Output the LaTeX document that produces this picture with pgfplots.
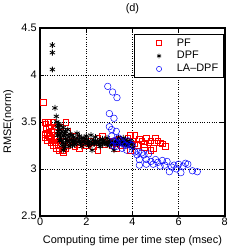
\documentclass[border=0pt]{standalone}
\usepackage{pgfplots}
\pgfplotsset{compat=1.18}
\usepackage{fontspec}
\setmainfont{Liberation Sans}
\begin{document}
\begin{tikzpicture}
\begin{axis}[
  scale only axis, width=186pt, height=189pt,
  xmin=0, xmax=8, ymin=2.5, ymax=4.5,
  xtick={0,2,4,6,8}, ytick={2.5,3,3.5,4,4.5},
  yticklabels={2.5,3,3.5,4,4.5},
  grid=major, major grid style={black, dotted, line width=0.8pt},
  axis line style={line width=1.6pt},
  tick style={black, line width=0.6pt}, tick align=inside,
  xlabel={Computing time per time step (msec)},
  ylabel={RMSE(norm)},
  title={(d)},
  /pgf/number format/assume math mode=true,
  ticklabel style={font=\fontsize{11}{13}\selectfont},
  label style={font=\fontsize{11}{13}\selectfont},
  title style={font=\fontsize{11}{13}\selectfont, at={([yshift=14pt]axis description cs:0.5,1)}, anchor=center},
  xlabel style={at={([yshift=-25pt]axis description cs:0.5,0)}, anchor=center},
  ylabel style={at={([xshift=-32pt]axis description cs:0,0.5)}, anchor=center, rotate=0},
  xticklabel style={yshift=1pt},
  legend style={at={(0.993,0.968)}, anchor=north east, line width=0.6pt,
    font=\fontsize{11}{13}\selectfont, row sep=0pt, inner ysep=2pt, inner xsep=3pt},
  legend cell align=left,
]
\addlegendimage{only marks, mark=square, mark size=2.4pt, draw=red, mark options={draw=red, solid}, line width=0.6pt, legend image code/.code={\draw[draw=red] plot coordinates {(0.75cm,0cm)}; \path (0cm,0cm) (1.3cm,0cm);}}
\addlegendentry{PF}
\addlegendimage{only marks, mark=asterisk, mark size=2.4pt, black, line width=0.7pt, legend image code/.code={\draw plot coordinates {(0.75cm,0cm)}; \path (0cm,0cm) (1.3cm,0cm);}}
\addlegendentry{DPF}
\addlegendimage{only marks, mark=o, mark size=2.6pt, draw=blue, mark options={draw=blue}, line width=0.5pt, legend image code/.code={\draw[draw=blue] plot coordinates {(0.75cm,0cm)}; \path (0cm,0cm) (1.3cm,0cm);}}
\addlegendentry{LA--DPF}
\addplot[forget plot, only marks, mark=square, mark size=2.8pt, color=red, mark options={draw=red}, line width=0.5pt] coordinates {
(0.14,3.71)(0.2,3.5)(0.25,3.48)(0.3,3.38)(0.2,3.37)(0.35,3.5)(0.4,3.45)(0.45,3.33)(0.5,3.3)(0.55,3.25)(0.6,3.42)(0.3,3.3)(0.4,3.35)(0.5,3.4)(0.55,3.5)(0.65,3.28)(0.7,3.22)(0.75,3.35)(0.8,3.3)(0.85,3.25)(0.9,3.45)(0.95,3.2)(1.0,3.18)(1.05,3.3)(1.1,3.22)(1.2,3.25)(1.3,3.28)(1.4,3.3)(1.5,3.24)(1.6,3.26)(1.7,3.22)(1.8,3.3)(1.9,3.28)(2.0,3.25)(2.1,3.27)(2.2,3.3)(2.3,3.24)(2.4,3.28)(2.5,3.2)(2.6,3.3)(2.7,3.35)(2.8,3.26)(2.9,3.3)(3.0,3.28)(3.1,3.25)(3.2,3.3)(3.3,3.27)(3.4,3.32)(3.5,3.25)(3.6,3.3)(3.7,3.28)(3.8,3.33)(3.9,3.36)(4.0,3.3)(4.1,3.27)(4.2,3.25)(4.3,3.32)(4.4,3.3)(4.5,3.26)(4.6,3.33)(4.7,3.28)(4.8,3.3)(4.9,3.22)(5.0,3.33)(5.1,3.3)(5.2,3.28)(5.3,3.27)(5.43,3.24)(4.8,3.2)(4.5,3.23)(4.1,3.36)(3.9,3.2)(1.1,3.5)(0.2,3.33)(0.7,3.45)(1.2,3.4)(0.6,3.32)(1.5,3.35)(2.5,3.33)(3.3,3.22)(0.25,3.42)(0.45,3.28)(0.8,3.2)
};
\addplot[forget plot, only marks, mark=asterisk, mark size=3pt, black, line width=0.8pt] coordinates {
(0.53,4.32)(0.53,4.24)(0.53,4.06)(0.64,3.65)(0.7,3.56)(0.72,3.5)(0.75,3.45)(0.78,3.4)(0.8,3.48)(0.82,3.36)(0.85,3.42)(0.88,3.33)(0.9,3.38)(0.93,3.3)(0.95,3.4)(1.0,3.35)(1.0,3.28)(1.0,3.2)(1.05,3.38)(1.1,3.32)(1.1,3.26)(1.15,3.36)(1.2,3.3)(1.25,3.34)(1.3,3.27)(1.3,3.37)(1.35,3.31)(1.4,3.29)(1.45,3.34)(1.5,3.3)(1.55,3.27)(1.6,3.33)(1.65,3.29)(1.7,3.31)(1.75,3.27)(1.8,3.33)(1.85,3.29)(1.9,3.3)(1.95,3.27)(2.0,3.32)(2.05,3.28)(2.1,3.3)(2.15,3.26)(2.2,3.36)(2.2,3.29)(2.25,3.2)(2.3,3.31)(2.35,3.27)(2.4,3.3)(2.45,3.28)(2.5,3.29)(2.55,3.26)(2.6,3.31)(2.65,3.28)(2.7,3.27)(2.75,3.3)(2.8,3.28)(2.85,3.26)(2.9,3.29)(2.95,3.27)(3.0,3.3)(3.05,3.28)(3.1,3.26)(3.15,3.29)(3.2,3.2)(3.2,3.27)(3.25,3.3)(3.3,3.28)(3.35,3.26)(3.4,3.29)(3.45,3.27)(3.5,3.3)(3.55,3.26)(3.6,3.29)(3.65,3.27)(3.7,3.31)(3.75,3.26)(3.8,3.28)(3.85,3.3)(3.9,3.27)(3.95,3.29)(4.0,3.25)(4.0,3.22)(1.2,3.42)(1.4,3.25)(1.6,3.38)(1.8,3.24)(2.0,3.35)(2.4,3.34)(2.6,3.24)(2.9,3.33)(3.4,3.33)(0.9,3.46)(1.0,3.44)(1.1,3.4)(1.25,3.24)(0.85,3.3)(0.95,3.25)(1.15,3.3)(1.35,3.36)(1.5,3.26)(1.7,3.35)(1.9,3.33)(2.1,3.25)(2.3,3.27)(2.7,3.32)(3.0,3.25)(3.6,3.33)(3.8,3.25)(1.05,3.22)(1.45,3.3)(0.75,3.36)
};
\addplot[forget plot, only marks, mark=o, mark size=3.3pt, blue, line width=0.5pt] coordinates {
(2.93,3.88)(3.14,3.82)(3.33,3.76)(3.0,3.59)(3.2,3.54)(3.0,3.45)(3.1,3.42)(3.3,3.4)(3.1,3.35)(3.2,3.3)(3.3,3.28)(3.4,3.33)(3.5,3.3)(3.6,3.27)(3.7,3.25)(3.8,3.3)(3.9,3.26)(3.15,3.25)(3.3,3.24)(3.55,3.22)(3.75,3.2)(4.0,3.25)(4.1,3.18)(4.2,3.15)(4.3,3.1)(4.4,3.17)(4.5,3.15)(4.6,3.1)(4.7,3.16)(4.8,3.08)(4.9,3.05)(5.0,3.1)(5.1,3.07)(5.2,3.03)(5.3,3.09)(5.4,3.04)(5.5,3.08)(5.6,2.97)(5.7,3.02)(5.8,3.04)(5.9,3.0)(6.0,3.05)(6.1,2.96)(6.2,3.03)(6.3,3.06)(6.4,3.05)(6.6,2.98)(6.81,2.97)(4.3,3.04)(4.6,3.05)(4.25,3.18)
};
\end{axis}
\path (current axis.south west) ++(-40pt,-33pt) rectangle ++(249pt,243pt);
\end{tikzpicture}
\end{document}
